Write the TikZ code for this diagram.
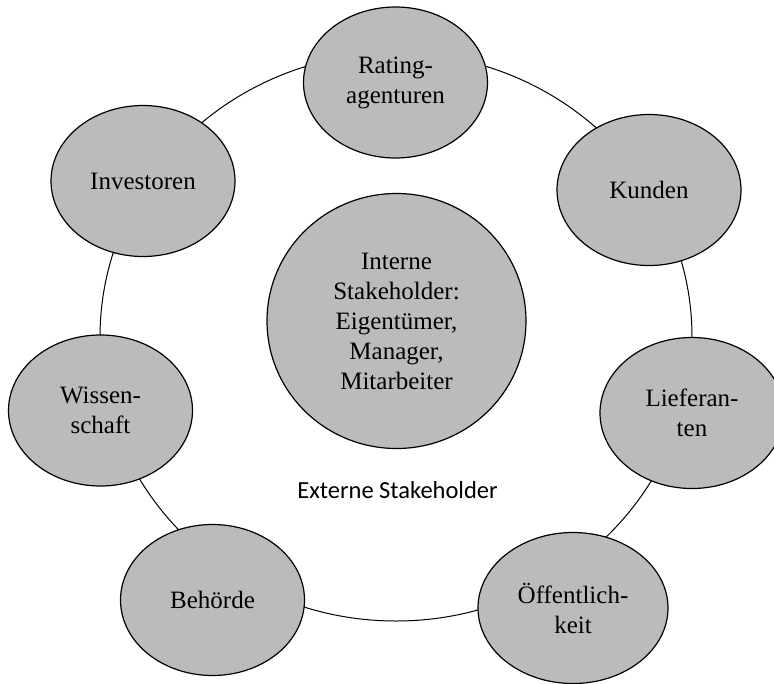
\documentclass[tikz,border=0pt]{standalone}
\usepackage{fontspec}
\setmainfont{Liberation Serif}
\newfontfamily\calfont{Carlito}
\usepackage{tikz}
\usetikzlibrary{shapes.geometric}
\definecolor{nodegray}{RGB}{187,187,187}

\begin{document}
\begin{tikzpicture}[x=1pt,y=-1pt,
  extern/.style={ellipse,draw,line width=1.2pt,fill=nodegray,inner sep=0pt,minimum width=184pt,minimum height=151pt,align=center,font=\fontsize{25}{30}\selectfont},
  intern/.style={extern,minimum width=259pt,minimum height=255pt}]
\useasboundingbox (0,0) rectangle (774,683);

\draw[line width=1pt] (396,337) ellipse [x radius=296pt,y radius=284pt];

\node[intern] (intern) at (396.5,321) {Interne\\Stakeholder:\\Eigentümer,\\Manager,\\Mitarbeiter};

\node[extern] (rating) at (395.5,82.5) {Rating-\\agenturen};
\node[extern] (kunden) at (649,190) {Kunden};
\node[extern] (lieferanten) at (692,413) {Lieferan-\\ten};
\node[extern,minimum width=190pt] (oeffentlichkeit) at (573,608) {Öffentlich-\\keit};
\node[extern] (behoerde) at (212.5,600) {Behörde};
\node[extern] (wissenschaft) at (100.5,410.5) {Wissen-\\schaft};
\node[extern] (investoren) at (143,181) {Investoren};

\node[anchor=base,font=\calfont\fontsize{24.5}{29}\selectfont] (externe) at (397.5,498) {Externe Stakeholder};
\end{tikzpicture}
\end{document}
